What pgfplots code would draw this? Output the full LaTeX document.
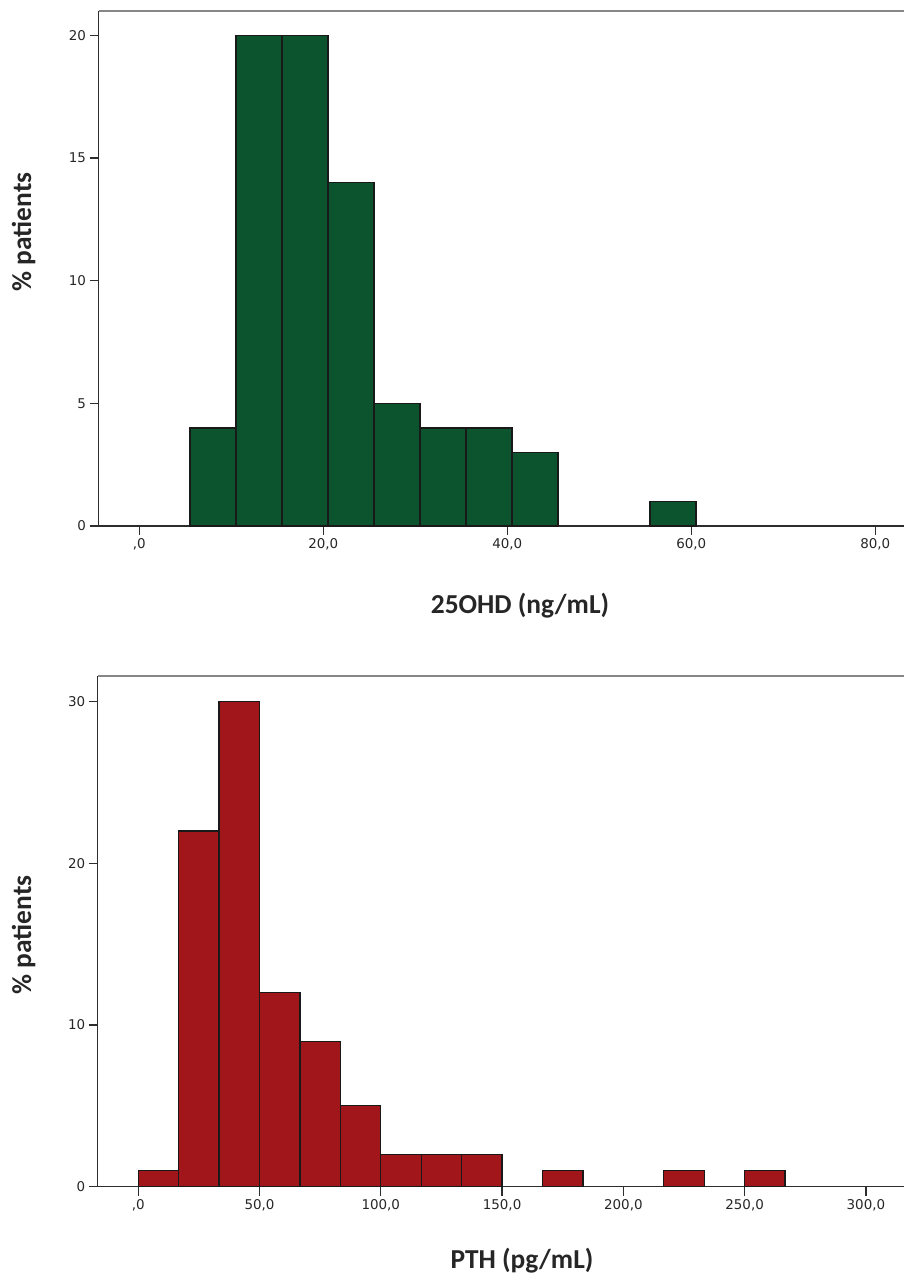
\documentclass[border=0pt]{standalone}
\usepackage{pgfplots}
\pgfplotsset{compat=1.18}
\usepackage{fontspec}
\setmainfont{DejaVu Sans}
\newfontfamily\labfont{Carlito}
\definecolor{bargreen}{RGB}{11,84,46}
\definecolor{barred}{RGB}{160,22,27}
\definecolor{axdark}{RGB}{45,45,45}
\definecolor{axgray}{RGB}{135,135,135}
\begin{document}
\begin{tikzpicture}
\useasboundingbox (0bp,0bp) rectangle (904bp,1278bp);
\pgfplotsset{
  histo/.style={
    scale only axis,
    anchor=south west,
    axis x line*=bottom,
    axis y line*=left,
    axis line style={-,draw=axdark,line width=1.3bp},
    tick align=outside,
    major tick length=9bp,
    tick style={draw=axdark,line width=1.3bp},
    ticklabel style={font=\fontsize{13.5}{16}\selectfont, text=black!85},
    /pgf/number format/assume math mode=true,
    ymin=0,
    clip=false,
    xtick pos=bottom, ytick pos=left,
  }
}
% ---------- top: 25OHD ----------
\begin{axis}[histo,
  at={(98.5bp,752bp)},
  width=805.5bp, height=515bp,
  xmin=-4.43, xmax=83.12, ymax=21.0,
  xtick={0,20,40,60,80},
  xticklabels={{,0},{20,0},{40,0},{60,0},{80,0}},
  ytick={0,5,10,15,20},
]
\addplot[ybar, bar width=5, bar shift=0, fill=bargreen, draw=black!90, line width=1.3bp]
  coordinates {(8,4) (13,20) (18,20) (23,14) (28,5) (33,4) (38,4) (43,3) (58,1)};
\draw[axgray, line width=2bp] (rel axis cs:0,1) -- (rel axis cs:1,1);
\end{axis}
% ---------- bottom: PTH ----------
\begin{axis}[histo,
  at={(97.7bp,91.3bp)},
  width=806.3bp, height=511bp,
  xmin=-16.7, xmax=315.7, ymax=31.6,
  xtick={0,50,100,150,200,250,300},
  xticklabels={{,0},{50,0},{100,0},{150,0},{200,0},{250,0},{300,0}},
  ytick={0,10,20,30},
]
\addplot[ybar, bar width=16.6667, bar shift=0, fill=barred, draw=black!90, line width=1.3bp]
  coordinates {(8.3333,1) (25,22) (41.6667,30) (58.3333,12) (75,9) (91.6667,5)
               (108.3333,2) (125,2) (141.6667,2) (175,1) (225,1) (258.3333,1)};
\draw[axgray, line width=2bp] (rel axis cs:0,1) -- (rel axis cs:1,1);
\end{axis}
% ---------- axis titles ----------
\node[font=\labfont\bfseries\fontsize{27.5}{30}\selectfont, anchor=base, text=black!85] at (520bp,664bp) {25OHD (ng/mL)};
\node[font=\labfont\bfseries\fontsize{27.5}{30}\selectfont, anchor=base, text=black!85] at (522bp,10bp) {PTH (pg/mL)};
\node[font=\labfont\bfseries\fontsize{27.5}{30}\selectfont, anchor=base, rotate=90, text=black!85] at (31bp,1046bp) {\% patients};
\node[font=\labfont\bfseries\fontsize{27.5}{30}\selectfont, anchor=base, rotate=90, text=black!85] at (31bp,343bp) {\% patients};
\end{tikzpicture}
\end{document}
